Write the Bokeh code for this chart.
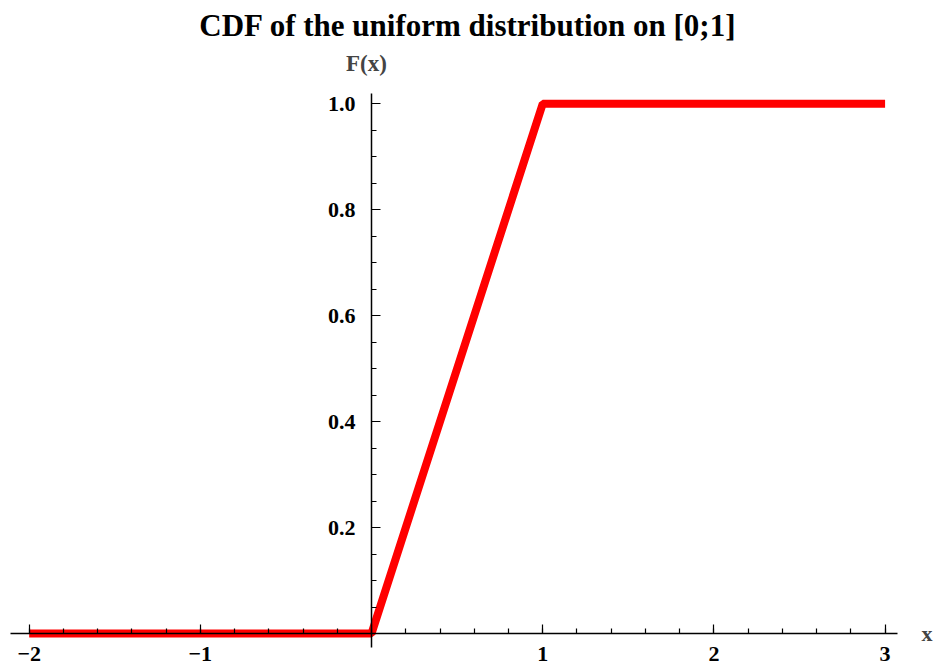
from bokeh.plotting import figure
from bokeh.models import Label, Range1d, FixedTicker, PrintfTickFormatter
from bokeh.embed import file_html
from bokeh.resources import INLINE

# data
xs = [-2.0, 0.0, 1.0, 3.0]
ys = [0.0, 0.0, 1.0, 1.0]
x_major = [-2, -1, 0, 1, 2, 3]
x_minor = [round(-2 + 0.2 * i, 2) for i in range(26)]
y_major = [0.0, 0.2, 0.4, 0.6, 0.8, 1.0]
y_minor = [round(0.05 * i, 2) for i in range(21)]
title_text = "CDF of the uniform distribution on [0;1]"
x_label = "x"
y_label = "F(x)"

FONT = "Liberation Serif"

W, H = 935, 666
p = figure(width=W, height=H, output_backend="svg", toolbar_location=None,
           x_range=Range1d(-2.1675, 3.2945), y_range=Range1d(-0.0623, 1.106),
           min_border=0, outline_line_color=None)

p.title.text = title_text
p.title.align = "center"
p.title.offset = -10
p.title.text_font = FONT
p.title.text_font_size = "31px"
p.title.text_font_style = "bold"
p.title.text_color = "black"

p.grid.visible = False

p.line(xs, ys, line_color="red", line_width=8)

for ax in (p.xaxis[0], p.yaxis[0]):
    ax.fixed_location = 0
    ax.axis_line_color = "black"
    ax.axis_line_width = 1.5
    ax.major_tick_line_color = "black"
    ax.minor_tick_line_color = "black"
    ax.major_tick_line_width = 1.2
    ax.minor_tick_line_width = 1.2
    ax.major_tick_in = 9
    ax.major_tick_out = 0
    ax.minor_tick_in = 5
    ax.minor_tick_out = 0
    ax.major_label_text_font = FONT
    ax.major_label_text_font_style = "bold"
    ax.major_label_text_font_size = "22px"
    ax.major_label_text_color = "black"

p.xaxis[0].ticker = FixedTicker(ticks=x_major, minor_ticks=x_minor)
p.yaxis[0].ticker = FixedTicker(ticks=y_major, minor_ticks=y_minor)
p.yaxis[0].formatter = PrintfTickFormatter(format="%.1f")
p.xaxis[0].major_label_overrides = {0: ""}
p.yaxis[0].major_label_overrides = {0: ""}
p.xaxis[0].bounds = (-2.11, 3.07)
p.yaxis[0].bounds = (-0.026, 1.02)
p.xaxis[0].major_label_standoff = 14
p.yaxis[0].major_label_standoff = 16

p.add_layout(Label(x=3.245, y=0, text=x_label, text_font=FONT, text_font_style="bold",
                   text_font_size="22px", text_align="center", text_baseline="middle"))
p.add_layout(Label(x=-0.03, y=1.075, text=y_label, text_font=FONT, text_font_style="bold",
                   text_font_size="23px", text_align="center", text_baseline="middle"))

open("out.html", "w").write(file_html(p, INLINE))
